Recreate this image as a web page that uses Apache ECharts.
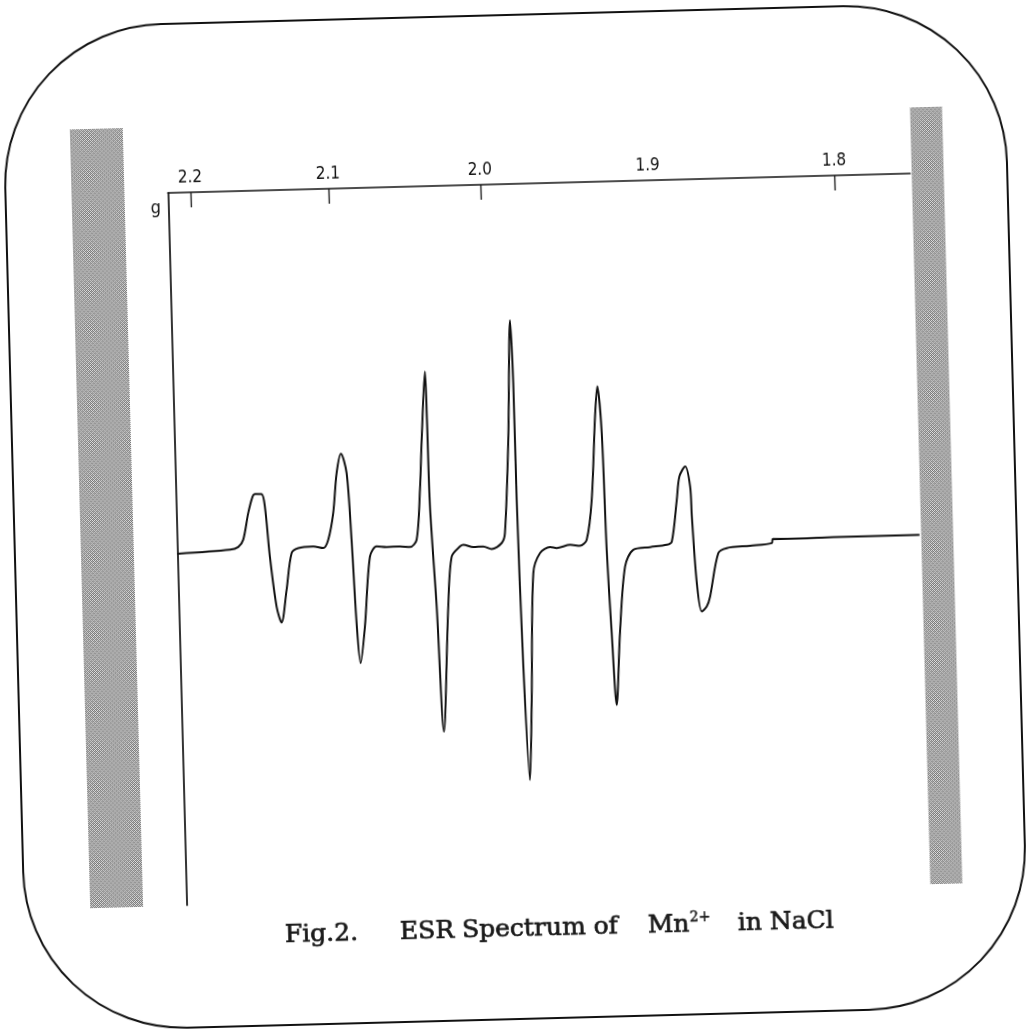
<!DOCTYPE html>
<html><head><meta charset="utf-8">
<script src="https://cdn.jsdelivr.net/npm/echarts@6/dist/echarts.min.js"></script>
<style>
html,body{margin:0;padding:0;background:#fff;overflow:hidden;width:1026px;height:1029px}
#c{width:1026px;height:1029px;background:#fff;transform:rotate(-1.5deg);transform-origin:513px 514.5px;}
</style></head><body><div id="c"></div>
<script>
// g-value tick labels on the top (field) axis
const gTicks = [2.2, 2.1, 2.0, 1.9, 1.8];
const gTicksMarked = [2.2, 2.1, 2.0, 1.8];
const fieldPerG = 671.9;            // B(mT) = fieldPerG / g  (X band)
const fieldRange = [303.05, 381.25]; // mT
const signalRange = [-352, 360];     // arbitrary units

// magnetic field (mT)
const fieldMT = [
  303.05,308.59,309.47,310.02,310.62,311.13,311.38,312.08,312.39,312.78,
  313.35,313.83,314.45,315.08,315.79,317.37,318.42,
  318.97,319.57,320.04,320.55,321.09,321.43,321.73,322.04,322.60,323.32,
  324.05,325.10,326.51,327.56,328.28,
  328.77,329.09,329.62,329.70,329.78,330.21,330.63,331.43,331.93,
  332.83,333.18,334.23,335.28,336.16,337.23,337.60,
  338.21,338.72,338.89,338.93,339.17,339.56,339.96,340.48,341.24,
  342.31,343.01,344.42,345.47,346.19,
  346.83,347.41,347.73,348.07,348.27,348.57,348.90,349.44,350.16,351.08,
  352.85,354.61,355.15,
  355.79,356.13,356.76,357.23,357.33,357.67,358.11,358.65,359.03,360.02,
  360.92,363.38,365.68,365.79,368.67,372.18,381.25
];
// first-derivative ESR signal (a.u.)
const signal = [
  -0.7,1.9,4.4,11.6,38.1,54.6,57.0,56.8,44.3,-5.8,
  -56.0,-72.1,-39.6,-3.0,1.8,3.0,1.2,
  9.3,35.9,75.8,95.0,75.6,8.7,-74.7,-114.8,-78.3,-8.5,
  1.4,0.5,0.8,-0.1,7.0,
  56.9,106.9,174.8,126.8,40.0,-60.2,-185.4,-60.5,-10.6,
  -0.8,0.8,-1.8,-1.4,-4.2,1.5,11.4,
  104.7,223.9,161.2,44.4,-122.5,-236.0,-156.0,-29.3,-9.5,
  -3.8,-4.9,-2.0,-3.3,2.6,
  42.4,125.7,155.6,108.9,-8.0,-91.4,-163.2,-91.6,-25.1,-8.6,
  -6.4,-4.5,-1.4,
  40.2,63.4,73.3,53.2,23.1,-43.6,-72.1,-67.3,-57.4,-14.2,
  -9.4,-7.7,-5.6,-1.6,-1.7,-1.2,-1.2
];

const seriesData = fieldMT.map((b, i) => [b, signal[i]]);

// stipple texture for the grey strips
const pat = document.createElement('canvas');
pat.width = 4; pat.height = 4;
(function(){
  const ctx = pat.getContext('2d');
  ctx.fillStyle = '#e2e2e2'; ctx.fillRect(0,0,4,4);
  ctx.fillStyle = '#767676';
  [[0,0],[2,0],[1,1],[3,1],[0,2],[2,2],[1,3],[3,3]].forEach(p => ctx.fillRect(p[0],p[1],1,1));
  ctx.fillStyle = '#b4b4b4';
  ctx.fillRect(1,0,1,1); ctx.fillRect(3,2,1,1);
})();

const tickFont = "'DejaVu Sans Condensed','Liberation Sans Narrow','Liberation Sans',sans-serif";
const capFont = "'DejaVu Serif','Liberation Serif',serif";

const chart = echarts.init(document.getElementById('c'), null, {renderer: 'canvas'});
chart.setOption({
  animation: false,
  backgroundColor: '#ffffff',
  grid: {left: 176.5, right: 107.2, top: 184, bottom: 132.5, containLabel: false, outerBoundsMode: 'none'},
  xAxis: {
    type: 'value', position: 'top', min: fieldRange[0], max: fieldRange[1],
    axisLine: {show: true, onZero: false, lineStyle: {color: '#111', width: 1.7}},
    axisTick: {show: true, inside: true, length: 15,
      customValues: gTicksMarked.map(g => fieldPerG / g),
      lineStyle: {color: '#111', width: 1.3}},
    axisLabel: {show: true, customValues: gTicks.map(g => fieldPerG / g),
      formatter: v => (fieldPerG / v).toFixed(1),
      margin: 6, fontSize: 17, color: '#111', fontFamily: tickFont},
    splitLine: {show: false}
  },
  yAxis: {
    type: 'value', min: signalRange[0], max: signalRange[1],
    axisLine: {show: true, onZero: false, lineStyle: {color: '#111', width: 1.7}},
    axisTick: {show: false}, axisLabel: {show: false}, splitLine: {show: false}
  },
  graphic: [
    {type: 'rect', silent: true, z: 0,
      shape: {x: 14, y: 15, width: 1002, height: 1004, r: 160},
      style: {fill: 'none', stroke: '#111', lineWidth: 2}},
    {type: 'rect', silent: true, z: 10,
      shape: {x: 80, y: 118, width: 53, height: 779},
      style: {fill: {image: pat, repeat: 'repeat'}}},
    {type: 'rect', silent: true, z: 10,
      shape: {x: 920.5, y: 118, width: 32, height: 777},
      style: {fill: {image: pat, repeat: 'repeat'}}},
    {type: 'text', silent: true, z: 10,
      style: {x: 164, y: 199, text: 'g', font: '18px ' + tickFont, fill: '#111',
        textAlign: 'center', textVerticalAlign: 'middle'}},
    {type: 'text', silent: true, z: 10,
      style: {x: 274, y: 929.5, text: 'Fig.2.', font: '25px ' + capFont, fill: '#1a1a1a',
        stroke: '#1a1a1a', lineWidth: 0.7, textAlign: 'left', textVerticalAlign: 'middle'}},
    {type: 'text', silent: true, z: 10,
      style: {x: 389, y: 929.5, text: 'ESR Spectrum of', font: '25px ' + capFont, fill: '#1a1a1a',
        stroke: '#1a1a1a', lineWidth: 0.7, textAlign: 'left', textVerticalAlign: 'middle'}},
    {type: 'text', silent: true, z: 10,
      style: {x: 637, y: 929.5, text: 'Mn', font: '25px ' + capFont, fill: '#1a1a1a',
        stroke: '#1a1a1a', lineWidth: 0.7, textAlign: 'left', textVerticalAlign: 'middle'}},
    {type: 'text', silent: true, z: 10,
      style: {x: 679, y: 922, text: '2+', font: '14px ' + capFont, fill: '#1a1a1a',
        stroke: '#1a1a1a', lineWidth: 0.5, textAlign: 'left', textVerticalAlign: 'middle'}},
    {type: 'text', silent: true, z: 10,
      style: {x: 727, y: 929.5, text: 'in NaCl', font: '25px ' + capFont, fill: '#1a1a1a',
        stroke: '#1a1a1a', lineWidth: 0.7, textAlign: 'left', textVerticalAlign: 'middle'}}
  ],
  series: [{
    type: 'line', data: seriesData, showSymbol: false, silent: true,
    smooth: 0.3,
    lineStyle: {color: '#111', width: 2}, z: 5
  }]
});
</script></body></html>
